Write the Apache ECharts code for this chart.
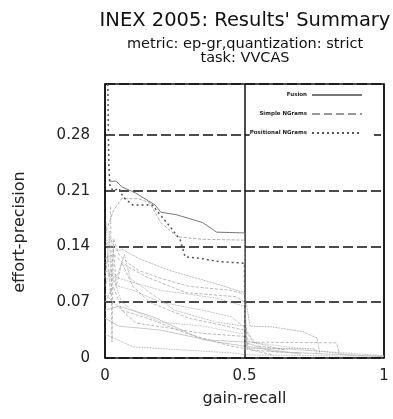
<!DOCTYPE html>
<html><head><meta charset="utf-8">
<script src="https://cdn.jsdelivr.net/npm/echarts@6/dist/echarts.min.js"></script>
<style>html,body{margin:0;padding:0;background:#fff}#c{width:393px;height:419px}</style>
</head><body><div id="c"></div>
<script>
const titleText = "INEX 2005: Results' Summary";
const subText = "metric: ep-gr,quantization: strict\ntask: VVCAS";
const xTickLabels = ['0', '0.5', '1'];
const yTickLabels = ['0', '0.07', '0.14', '0.21', '0.28'];
const legendNames = ['Fusion', 'Simple NGrams', 'Positional NGrams'];

const fusion = [[0.015,0.222],[0.04,0.222],[0.06,0.215],[0.11,0.207],[0.18,0.192],[0.2,0.183],[0.255,0.18],[0.35,0.17],[0.4,0.158],[0.5,0.157],[0.502,0.005]];
const simpleNgrams = [[0.005,0.16],[0.03,0.185],[0.06,0.2],[0.12,0.2],[0.16,0.195],[0.2,0.17],[0.26,0.152],[0.35,0.149],[0.5,0.148],[0.502,0.01]];
const positionalNgrams = [[0.01,0.344],[0.011,0.32],[0.012,0.28],[0.014,0.24],[0.018,0.215],[0.03,0.21],[0.05,0.213],[0.065,0.202],[0.1,0.192],[0.17,0.192],[0.19,0.183],[0.233,0.165],[0.27,0.148],[0.287,0.127],[0.34,0.125],[0.41,0.121],[0.5,0.119],[0.502,0.01]];

const run1 = [[0,0.14],[0.02,0.15],[0.04,0.135],[0.065,0.136],[0.12,0.125],[0.23,0.11],[0.39,0.094],[0.5,0.082],[0.52,0.04],[0.6,0.039],[0.71,0.033],[0.76,0.025],[0.77,0.005]];
const run2 = [[0,0.125],[0.03,0.13],[0.08,0.115],[0.147,0.102],[0.29,0.082],[0.47,0.077],[0.5,0.07],[0.51,0.02],[0.83,0.019],[0.84,0.005]];
const run3 = [[0,0.12],[0.02,0.1],[0.05,0.09],[0.1,0.085],[0.2,0.07],[0.35,0.06],[0.45,0.052],[0.5,0.039],[0.51,0.012],[0.75,0.012],[0.76,0.004]];
const run4 = [[0,0.06],[0.05,0.065],[0.17,0.052],[0.35,0.023],[0.5,0.02],[0.6,0.008],[1,0.002]];
const run5 = [[0,0.08],[0.03,0.07],[0.11,0.044],[0.35,0.031],[0.5,0.027],[0.52,0.01],[0.7,0.006]];
const run6 = [[0,0.03],[0.1,0.014],[0.47,0.006],[0.5,0.004],[1,0.002]];
const run7 = [[0,0.1],[0.01,0.13],[0.02,0.08],[0.03,0.14],[0.04,0.09],[0.06,0.12],[0.1,0.09],[0.16,0.07],[0.3,0.05],[0.5,0.035],[0.55,0.015],[0.65,0.01]];
const run8 = [[0,0.09],[0.02,0.11],[0.05,0.1],[0.1,0.095],[0.2,0.085],[0.3,0.08],[0.4,0.075],[0.5,0.065],[0.51,0.01]];
const run9 = [[0,0.05],[0.05,0.04],[0.2,0.035],[0.4,0.02],[0.5,0.015],[0.7,0.005]];
const run10 = [[0.005,0.17],[0.01,0.12],[0.015,0.16],[0.02,0.11],[0.03,0.1],[0.06,0.07],[0.1,0.06],[0.2,0.045],[0.35,0.04],[0.5,0.03],[0.52,0.02],[0.9,0.003]];
const run11 = [[0.02,0.19],[0.025,0.02],[0.03,0.15],[0.05,0.13],[0.08,0.12],[0.12,0.11],[0.2,0.1],[0.3,0.09],[0.45,0.085],[0.5,0.08]];
const run12 = [[0,0.11],[0.04,0.1],[0.07,0.13],[0.09,0.1],[0.15,0.085],[0.25,0.06],[0.4,0.045],[0.5,0.04],[0.53,0.02],[0.62,0.012],[1,0.003]];
const run13 = [[0,0.07],[0.03,0.09],[0.06,0.06],[0.15,0.05],[0.3,0.03],[0.45,0.015],[0.5,0.012],[0.6,0.004]];

const otherRuns = [
  [run1,'dotted','#888'],[run2,'dashed','#aaa'],[run3,'dotted','#999'],[run4,'solid','#bbb'],
  [run5,'dashed','#aaa'],[run6,'dotted','#999'],[run7,'dashed','#aaa'],[run8,'dotted','#999'],
  [run9,'solid','#bbb'],[run10,'dotted','#aaa'],[run11,'dashed','#aaa'],[run12,'dotted','#999'],
  [run13,'dashed','#aaa']
];

const FONT = 'DejaVu Sans';
const series = [];
otherRuns.forEach(function(r){
  series.push({type:'line', data:r[0], symbol:'none', silent:true,
    lineStyle:{color:r[2], width:0.8, type:r[1]}});
});
series.push({name:legendNames[0], type:'line', data:fusion, symbol:'none', lineStyle:{color:'#777', width:1, type:'solid'}});
series.push({name:legendNames[1], type:'line', data:simpleNgrams, symbol:'none', lineStyle:{color:'#999', width:0.8, type:'dashed'}});
series.push({name:legendNames[2], type:'line', data:positionalNgrams, symbol:'none', lineStyle:{color:'#555', width:1.5, type:[2,3]}});

const frameAxis = {show:true, axisLine:{show:true, onZero:false, lineStyle:{color:'#111', width:1.5}},
  axisTick:{show:false}, axisLabel:{show:false}, splitLine:{show:false}};

const chart = echarts.init(document.getElementById('c'));
chart.setOption({
  animation:false,
  backgroundColor:'#fff',
  title:[
    {text:titleText, left:240, top:6, textAlign:'center',
     textStyle:{fontFamily:FONT, fontSize:19.5, fontWeight:'normal', color:'#111'}},
    {text:subText, left:240, top:32, textAlign:'center',
     textStyle:{fontFamily:FONT, fontSize:14.5, fontWeight:'normal', color:'#111', lineHeight:14}}
  ],
  legend:{data:legendNames, orient:'vertical', right:19, top:89, align:'right',
    itemWidth:50, itemHeight:6, itemGap:13, backgroundColor:'#fff',
    padding:[3,11,5,0], itemStyle:{opacity:0},
    textStyle:{fontFamily:FONT, fontSize:5.5, fontWeight:'bold', color:'#222'}},
  grid:{left:105, right:9, top:84, bottom:61},
  xAxis:[{type:'value', min:0, max:1, interval:0.5,
    name:'gain-recall', nameLocation:'middle', nameGap:33,
    nameTextStyle:{fontFamily:FONT, fontSize:16, color:'#222'},
    axisLine:{onZero:false, lineStyle:{color:'#111', width:1.5}}, axisTick:{show:false},
    axisLabel:{fontFamily:FONT, fontSize:15, color:'#222', margin:11,
      formatter:function(v){ const i = Math.round(v/0.5); return xTickLabels[i] !== undefined ? xTickLabels[i] : ''; }},
    splitLine:{show:true, lineStyle:{color:'#111', width:1.5, type:'solid'}}},
    Object.assign({type:'value', min:0, max:1, position:'top'}, frameAxis)],
  yAxis:[{type:'value', min:0, max:0.344, interval:0.07,
    name:'effort-precision', nameLocation:'middle', nameGap:77,
    nameTextStyle:{fontFamily:FONT, fontSize:16, color:'#222', padding:[0,22,0,0]},
    axisLine:{onZero:false, lineStyle:{color:'#111', width:1.5}}, axisTick:{show:false},
    axisLabel:{fontFamily:FONT, fontSize:15, color:'#222', margin:15,
      formatter:function(v){ const i = Math.round(v/0.07); return (Math.abs(v - i*0.07) < 1e-6 && yTickLabels[i] !== undefined) ? yTickLabels[i] : ''; }},
    splitLine:{show:true, lineStyle:{color:'#111', width:1.5, type:[10,4]}}},
    Object.assign({type:'value', min:0, max:0.344, position:'right'}, frameAxis)],
  series:series
});
</script></body></html>
